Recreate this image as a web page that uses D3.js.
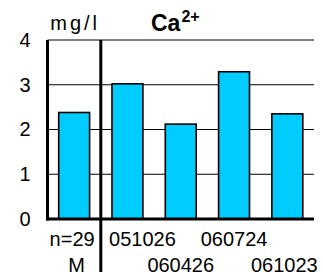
<!DOCTYPE html>
<html>
<head>
<meta charset="utf-8">
<script src="https://cdn.jsdelivr.net/npm/d3@7"></script>
<style>
  body { margin: 0; background: #fff; }
  text { font-family: "Liberation Sans", Arial, sans-serif; fill: #000; }
</style>
</head>
<body>
<div id="chart"></div>
<script>
// Data
const categories = ["M", "051026", "060426", "060724", "061023"];
const values = [2.38, 3.02, 2.12, 3.29, 2.35];
const topLabels = ["n=29", "051026", "", "060724", ""];
const bottomLabels = ["M", "", "060426", "", "061023"];
const yTicks = [0, 1, 2, 3, 4];

const width = 323, height = 275;
const margin = {top: 40, right: 9, bottom: 56, left: 47.5};
const innerW = width - margin.left - margin.right;
const innerH = height - margin.top - margin.bottom;

const svg = d3.select("#chart").append("svg")
    .attr("width", width)
    .attr("height", height);

const chart = svg.append("g")
    .attr("transform", `translate(${margin.left},${margin.top})`);

const x = d3.scaleBand()
    .domain(categories)
    .range([0, innerW])
    .paddingInner(0.42)
    .paddingOuter(0.21);

const y = d3.scaleLinear()
    .domain([0, 4])
    .range([innerH, 0]);

// Gridlines
chart.append("g")
    .selectAll("line")
    .data(yTicks.filter(d => d > 0))
    .join("line")
    .attr("x1", 0)
    .attr("x2", innerW)
    .attr("y1", d => y(d))
    .attr("y2", d => y(d))
    .attr("stroke", "#000")
    .attr("stroke-width", 1);

// Y tick labels
const yAxis = chart.append("g")
    .call(d3.axisLeft(y).tickValues(yTicks).tickSize(0).tickPadding(17).tickFormat(d3.format("d")));
yAxis.select(".domain").remove();
yAxis.selectAll("text")
    .attr("font-size", 20)
    .attr("font-family", "Liberation Sans, Arial, sans-serif");

// Bars
chart.selectAll("rect.bar")
    .data(values)
    .join("rect")
    .attr("class", "bar")
    .attr("x", (d, i) => x(categories[i]))
    .attr("y", d => y(d))
    .attr("width", x.bandwidth())
    .attr("height", d => y(0) - y(d))
    .attr("fill", "#00ccff")
    .attr("stroke", "#000")
    .attr("stroke-width", 1.6);

// Thick axis lines
chart.append("line")
    .attr("x1", 0).attr("x2", 0)
    .attr("y1", 0).attr("y2", innerH + 1.5)
    .attr("stroke", "#000").attr("stroke-width", 3);

chart.append("line")
    .attr("x1", -1.5).attr("x2", innerW)
    .attr("y1", innerH).attr("y2", innerH)
    .attr("stroke", "#000").attr("stroke-width", 3);

// Divider between the summary bar and the dated samples
const divX = (x(categories[0]) + x.bandwidth() + x(categories[1])) / 2;
chart.append("line")
    .attr("x1", divX).attr("x2", divX)
    .attr("y1", 0).attr("y2", innerH + 53)
    .attr("stroke", "#000").attr("stroke-width", 3);

// X labels in two staggered rows
const labelShift = [-2, 15, 0, 0, -3];
const labels = chart.append("g")
    .attr("font-size", 20)
    .attr("text-anchor", "middle");

labels.selectAll("text.top")
    .data(topLabels)
    .join("text")
    .attr("class", "top")
    .attr("x", (d, i) => x(categories[i]) + x.bandwidth() / 2 + labelShift[i])
    .attr("y", innerH + 27)
    .text(d => d);

labels.selectAll("text.bottom")
    .data(bottomLabels)
    .join("text")
    .attr("class", "bottom")
    .attr("x", (d, i) => x(categories[i]) + x.bandwidth() / 2 + (i === 0 ? 2.5 : labelShift[i]))
    .attr("y", innerH + 53)
    .text(d => d);

// Unit and title
svg.append("text")
    .attr("x", margin.left + x(categories[0]) + x.bandwidth() / 2 + 1)
    .attr("y", 30)
    .attr("text-anchor", "middle")
    .attr("font-size", 20)
    .attr("letter-spacing", 3)
    .text("mg/l");

const title = svg.append("text")
    .attr("x", 151)
    .attr("y", 30.5)
    .attr("font-size", 23)
    .attr("font-weight", "bold");
title.append("tspan").text("Ca");
title.append("tspan")
    .attr("dy", -9)
    .attr("dx", 1)
    .attr("font-size", 16)
    .text("2+");
</script>
</body>
</html>
